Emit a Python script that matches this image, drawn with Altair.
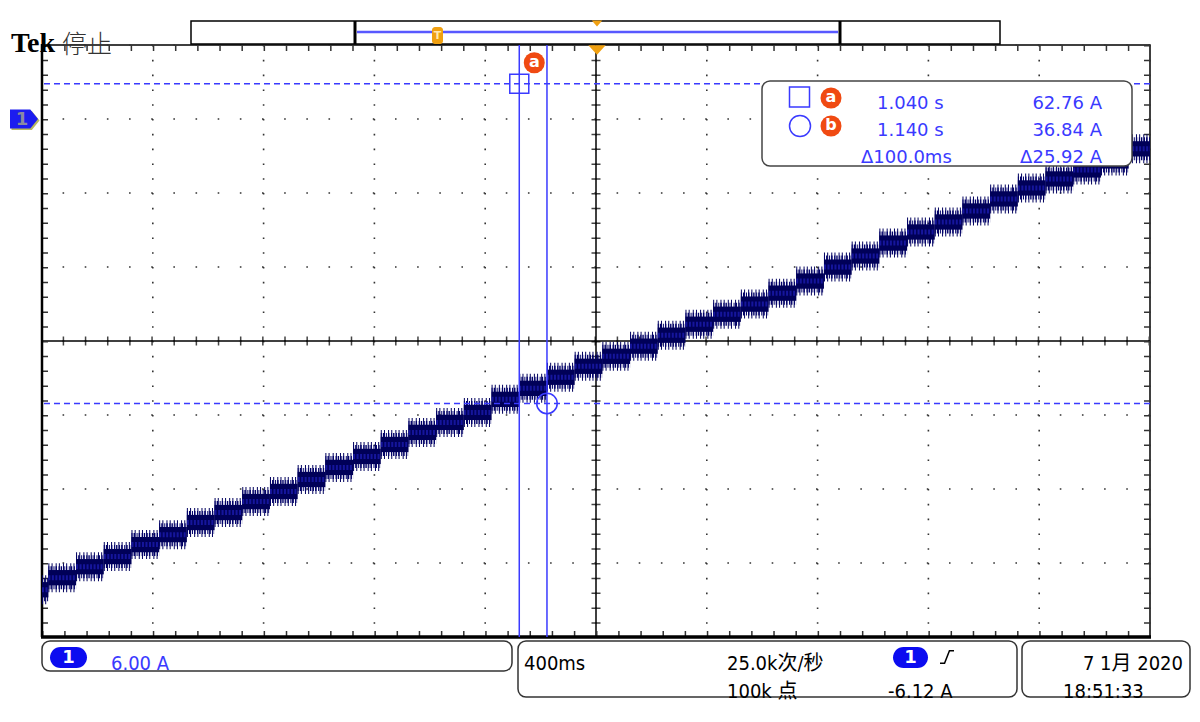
import altair as alt
import pandas as pd

T_MIN, T_MAX = -0.683, 3.317          # 400 ms/div, 10 div
A_MIN, A_MAX = 17.9, 65.9             # 6.00 A/div, 8 div
T_CENTER, A_CENTER = 1.317, 41.9

div_times = [-0.683, -0.283, 0.117, 0.517, 0.917, 1.317, 1.717, 2.117, 2.517, 2.917, 3.317]
div_amps = [17.9, 23.9, 29.9, 35.9, 41.9, 47.9, 53.9, 59.9, 65.9]

step_start = [-0.683, -0.66, -0.56, -0.46, -0.36, -0.26, -0.16, -0.06,
              0.04, 0.14, 0.24, 0.34, 0.44, 0.54, 0.64, 0.74, 0.84, 0.94,
              1.04, 1.14, 1.24, 1.34, 1.44, 1.54, 1.64, 1.74, 1.84, 1.94,
              2.04, 2.14, 2.24, 2.34, 2.44, 2.54, 2.64, 2.74, 2.84, 2.94,
              3.04, 3.14, 3.24]
step_level = [21.73, 22.71, 23.60, 24.42, 25.39, 26.20, 27.18, 27.99, 28.88, 29.70,
              30.67, 31.65, 32.54, 33.51, 34.49, 35.30, 36.11, 37.17, 38.06, 38.96,
              39.85, 40.66, 41.48, 42.37, 43.26, 44.07, 44.89, 45.78, 46.76, 47.89,
              48.79, 49.84, 50.74, 51.55, 52.44, 53.42, 54.31, 55.04, 55.77, 56.50,
              57.48]

cursor_times = [1.040, 1.140]
cursor_amps = [62.76, 36.84]
cursor_names = ["a", "b"]

readout_time = ["1.040 s", "1.140 s", "Δ100.0ms"]
readout_amp = ["62.76 A", "36.84 A", "Δ25.92 A"]

header_brand = "Tek"
header_state = "停止"
ch_scale = "6.00 A"
time_scale = "400ms"
sample_rate = "25.0k次/秒"
record_len = "100k 点"
trig_level = "-6.12 A"
date_txt = "7 1月 2020"
time_txt = "18:51:33"

# ---------------- tables ----------------
steps = pd.DataFrame({
    "start": step_start,
    "end": step_start[1:] + [T_MAX],
    "level": step_level,
})
steps["lo"] = steps["level"] - 0.62
steps["hi"] = steps["level"] + 0.62

cursors = pd.DataFrame({"t": cursor_times, "a": cursor_amps, "name": cursor_names})
ONE = pd.DataFrame({"k": [0]})

xs = alt.Scale(domain=[T_MIN, T_MAX], nice=False, zero=False)
ys = alt.Scale(domain=[A_MIN, A_MAX], nice=False, zero=False)


def X(f):
    return alt.X(f, type="quantitative", scale=xs, axis=None)


def Y(f):
    return alt.Y(f, type="quantitative", scale=ys, axis=None)


OX, OY = 42, 45   # page position of the plot area


def rx(v):
    return v - OX


def ry(v):
    return v - OY


BLUE = "#3a3aff"
ORANGE = "#f0a010"
TAG = "#f04a12"
PILL = "#0c0cf0"
SANS = "DejaVu Sans"
COND = "DejaVu Sans Condensed, DejaVu Sans, Noto Sans CJK SC"


def d_rect(x1, y1, x2, y2, **kw):
    return alt.Chart(ONE).mark_rect(**kw).encode(
        x=alt.value(rx(x1)), x2=alt.value(rx(x2)), y=alt.value(ry(y1)), y2=alt.value(ry(y2)))


def d_rule(x1, y1, x2, y2, **kw):
    return alt.Chart(ONE).mark_rule(**kw).encode(
        x=alt.value(rx(x1)), x2=alt.value(rx(x2)), y=alt.value(ry(y1)), y2=alt.value(ry(y2)))


def d_text(s, x, y, **kw):
    return alt.Chart(ONE).mark_text(**kw).encode(
        x=alt.value(rx(x)), y=alt.value(ry(y)), text=alt.value(s))


def d_sym(x, y, **kw):
    return alt.Chart(ONE).mark_point(**kw).encode(x=alt.value(rx(x)), y=alt.value(ry(y)))


layers = []

# ---------- graticule ----------
layers.append(alt.Chart(pd.DataFrame({"t": div_times})).mark_rule(
    color="#333", strokeWidth=1.6, strokeDash=[1.6, 13.2]).encode(x=X("t")))
layers.append(alt.Chart(pd.DataFrame({"a": div_amps})).mark_rule(
    color="#333", strokeWidth=1.6, strokeDash=[1.6, 20.56]).encode(y=Y("a")))
center = pd.DataFrame({"t": [T_CENTER], "a": [A_CENTER]})
layers.append(alt.Chart(center).mark_rule(
    color="#444", strokeWidth=9, strokeDash=[1.5, 13.3]).encode(x=X("t")))
layers.append(alt.Chart(center).mark_rule(
    color="#444", strokeWidth=9, strokeDash=[1.5, 20.66]).encode(y=Y("a")))
layers.append(alt.Chart(center).mark_rule(color="black", strokeWidth=1.5).encode(x=X("t")))
layers.append(alt.Chart(center).mark_rule(color="black", strokeWidth=1.5).encode(y=Y("a")))
# border ticks
layers.append(d_rule(42, 48, 1150, 48, color="#333", strokeWidth=6, strokeDash=[1.5, 20.66]))
layers.append(d_rule(42, 634, 1150, 634, color="#333", strokeWidth=6, strokeDash=[1.5, 20.66]))
layers.append(d_rule(45, 45, 45, 637, color="#333", strokeWidth=6, strokeDash=[1.5, 13.3]))
layers.append(d_rule(1147, 45, 1147, 637, color="#333", strokeWidth=6, strokeDash=[1.5, 13.3]))
layers.append(d_rule(41, 637, 1151, 637, color="black", strokeWidth=3.5))
layers.append(d_rule(42, 44, 42, 637, color="black", strokeWidth=2.5))

# ---------- trace (staircase with noise band) ----------
layers.append(alt.Chart(steps).mark_rule(color="#00005e", strokeWidth=29, strokeDash=[1, 2.2, 1, 3.1]).encode(
    x=X("start"), x2="end", y=Y("level")))
layers.append(alt.Chart(steps).mark_rule(color="#00006a", strokeWidth=23, strokeDash=[1, 1.1, 1.4, 1.6]).encode(
    x=X("start"), x2="end", y=Y("level")))
layers.append(alt.Chart(steps).mark_rect(color="#000058").encode(
    x=X("start"), x2="end", y=Y("lo"), y2="hi"))
layers.append(alt.Chart(steps).mark_rule(color="#2a2ae0", strokeWidth=5, opacity=0.5,
                                         strokeDash=[2, 1.5]).encode(
    x=X("start"), x2="end", y=Y("level")))

# ---------- cursors ----------
layers.append(alt.Chart(cursors).mark_rule(color=BLUE, strokeWidth=1.5).encode(x=X("t")))
layers.append(alt.Chart(cursors).mark_rule(color=BLUE, strokeWidth=1.5, strokeDash=[6, 4]).encode(y=Y("a")))
layers.append(alt.Chart(cursors.iloc[[0]]).mark_point(
    shape="square", size=361, filled=False, color=BLUE, strokeWidth=1.5, opacity=1).encode(x=X("t"), y=Y("a")))
layers.append(alt.Chart(cursors.iloc[[1]]).mark_point(
    shape="circle", size=420, filled=False, color=BLUE, strokeWidth=1.5, opacity=1).encode(x=X("t"), y=Y("a")))
layers.append(alt.Chart(cursors.iloc[[0]]).mark_circle(
    size=441, color=TAG, opacity=1, xOffset=15, yOffset=-21).encode(x=X("t"), y=Y("a")))
layers.append(alt.Chart(cursors.iloc[[0]]).mark_text(
    color="white", fontSize=16, fontWeight="bold", font=SANS, xOffset=15, yOffset=-22,
    baseline="middle").encode(x=X("t"), y=Y("a"), text="name"))

# ---------- readout panel ----------
layers.append(d_rect(762, 81, 1132, 166, fill="white", stroke="#444", strokeWidth=1.5, cornerRadius=8))
layers.append(d_sym(799.5, 97, shape="square", size=400, filled=False, color=BLUE, strokeWidth=1.5, opacity=1))
layers.append(d_sym(800, 126, shape="circle", size=441, filled=False, color=BLUE, strokeWidth=1.5, opacity=1))
for yy, nm in [(98, "a"), (126, "b")]:
    layers.append(d_sym(831, yy, shape="circle", size=441, filled=True, color=TAG, opacity=1))
    layers.append(d_text(nm, 831, yy - 1, color="white", fontSize=16, fontWeight="bold", font=SANS,
                         align="center", baseline="middle"))
for i, yy in enumerate([104, 131, 158]):
    layers.append(d_text(readout_time[i], 877 if i < 2 else 861, yy, color=BLUE, fontSize=18, font=SANS,
                         align="left"))
    layers.append(d_text(readout_amp[i], 1102, yy, color=BLUE, fontSize=18, font=SANS, align="right"))

# ---------- header ----------
layers.append(d_text(header_brand, 11, 44, color="black", fontSize=28, fontWeight="bold",
                     font="Liberation Serif", align="left"))
layers.append(d_text(header_state, 62, 45, color="#333", fontSize=25, fontWeight=300,
                     font="Noto Sans CJK SC", align="left"))
layers.append(d_rect(191, 21, 1000, 44, fill="white", stroke="black", strokeWidth=1.5))
layers.append(d_rule(355, 21, 355, 44, color="black", strokeWidth=3))
layers.append(d_rule(840, 21, 840, 44, color="black", strokeWidth=3))
layers.append(d_rule(357, 32, 838, 32, color="#5858ff", strokeWidth=2.5))
layers.append(d_rect(432, 27, 443, 44, fill=ORANGE, cornerRadius=3))
layers.append(d_text("T", 437.5, 36, color="#ffe8b0", fontSize=11, fontWeight="bold", font=SANS,
                     align="center", baseline="middle"))
layers.append(d_sym(597, 23.5, shape="M-1,-0.55L1,-0.55L0,0.55Z", size=110, filled=True, color=ORANGE, opacity=1))
layers.append(d_sym(597, 50, shape="M-1,-0.55L1,-0.55L0,0.55Z", size=300, filled=True, color=ORANGE, opacity=1))

# channel 1 marker
layers.append(d_sym(25.5, 120.5, shape="M-1,-0.68L0.45,-0.68L1,0L0.45,0.68L-1,0.68Z", size=784,
                    filled=True, color="#b8b860", opacity=1))
layers.append(d_sym(24, 119, shape="M-1,-0.68L0.45,-0.68L1,0L0.45,0.68L-1,0.68Z", size=784,
                    filled=True, color="#1c1cf0", opacity=1))
layers.append(d_text("1", 22, 119.5, color="#8a8aa0", fontSize=18, fontWeight="bold", font=SANS,
                     align="center", baseline="middle"))

# ---------- status bar ----------
layers.append(d_rect(42, 641, 512, 671, fill="white", stroke="#333", strokeWidth=1.5, cornerRadius=8))
layers.append(d_rect(50, 647, 87, 668, fill=PILL, cornerRadius=10.5))
layers.append(d_text("1", 68.5, 658, color="white", fontSize=18, fontWeight="bold", font=SANS,
                     align="center", baseline="middle"))
layers.append(d_text(ch_scale, 111, 664, color=BLUE, fontSize=20, font=COND, align="left"))

layers.append(d_rect(518, 641, 1017, 697, fill="white", stroke="#333", strokeWidth=1.5, cornerRadius=8))
layers.append(d_text(time_scale, 524, 664, color="black", fontSize=20, font=COND, align="left"))
layers.append(d_text(sample_rate, 727, 664, color="black", fontSize=20, font=COND, align="left"))
layers.append(d_text(record_len, 727, 692, color="black", fontSize=20, font=COND, align="left"))
layers.append(d_rect(893, 647, 928, 668, fill=PILL, cornerRadius=10.5))
layers.append(d_text("1", 910.5, 658, color="white", fontSize=18, fontWeight="bold", font=SANS,
                     align="center", baseline="middle"))
layers.append(d_sym(947, 657, shape="M-1,0.9L-0.35,0.9L0.35,-0.9L1,-0.9", size=196, filled=False,
                    color="black", strokeWidth=1.5, opacity=1))
layers.append(d_text(trig_level, 888, 692, color="black", fontSize=20, font=COND, align="left"))

layers.append(d_rect(1022, 641, 1190, 697, fill="white", stroke="#333", strokeWidth=1.5, cornerRadius=8))
layers.append(d_text(date_txt, 1183, 664, color="black", fontSize=20, font=COND, align="right"))
layers.append(d_text(time_txt, 1063, 692, color="black", fontSize=20, font=COND, align="left"))

chart = alt.layer(*layers).properties(
    width=1108,
    height=592,
    autosize=alt.AutoSizeParams(type="none"),
    padding={"left": 34, "top": 37, "right": 42, "bottom": 70},
    background="white",
).configure_view(stroke="black", strokeWidth=1.5)

chart.save("out.html", embed_options={"renderer": "svg", "actions": False})
